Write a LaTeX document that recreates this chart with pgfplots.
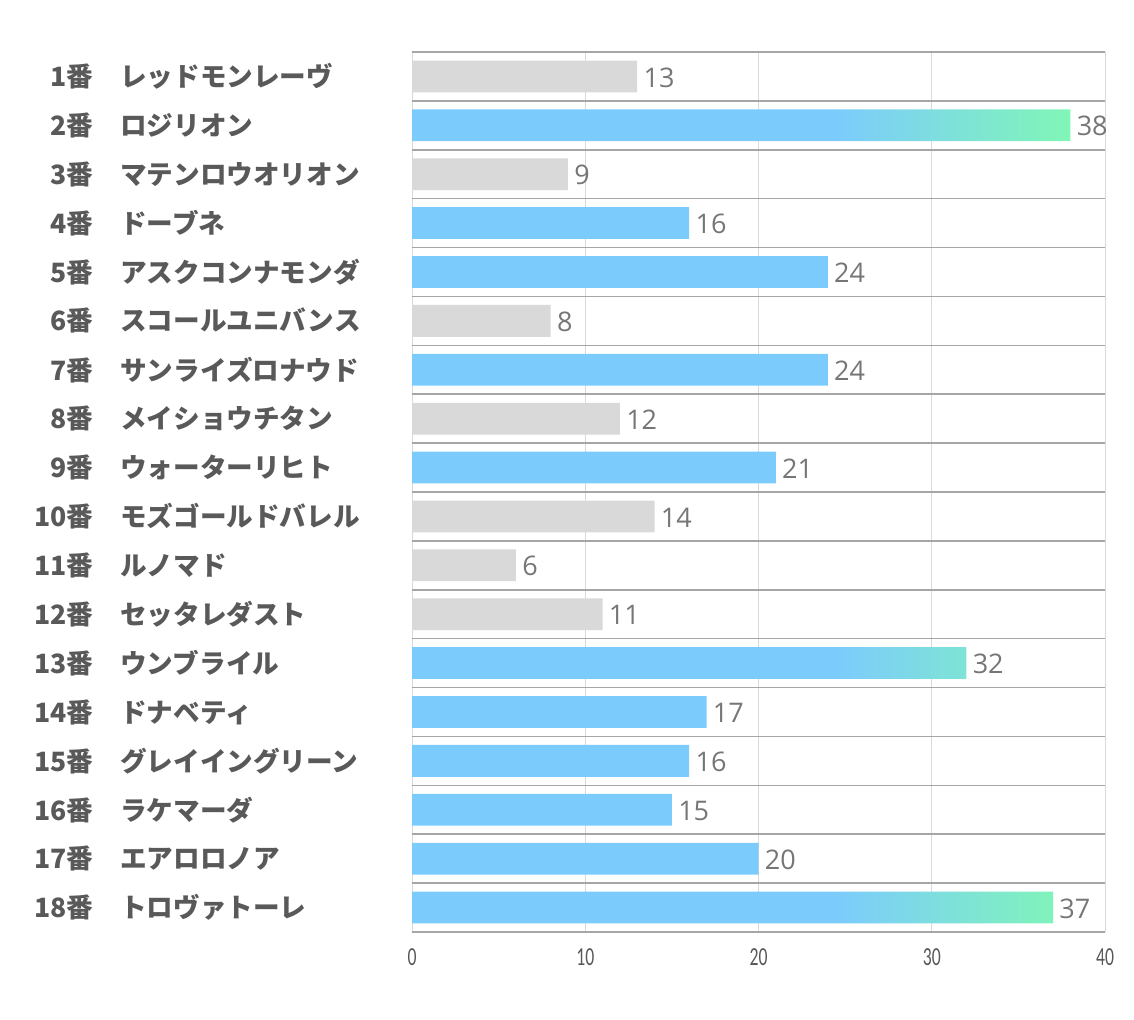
\documentclass[border=0pt]{standalone}
\usepackage{pgfplots}
\pgfplotsset{compat=1.18}
\usepackage{fontspec}
\usepackage{graphicx}
\setmainfont{Carlito}
\newfontfamily\cjk{Noto Sans CJK JP}
\newfontfamily\valfont{Open Sans}

\definecolor{barblue}{HTML}{7CCBFD}
\definecolor{bargreen}{HTML}{80F6B6}
\definecolor{bargray}{HTML}{D9D9D9}
\definecolor{hline}{HTML}{A6A6A6}
\definecolor{vline}{HTML}{D9D9D9}
\definecolor{lbl}{HTML}{595959}
\definecolor{val}{HTML}{767676}

% blue for the first ~65% of the bar, then fading to green
\pgfdeclarehorizontalshading{bargrad}{100bp}{color(0bp)=(barblue); color(25bp)=(barblue); color(57bp)=(barblue); color(75bp)=(bargreen); color(100bp)=(bargreen)}

\newcommand{\rl}[2]{\makebox[46.5pt][r]{#1番}\hspace{13.5pt}#2}

\begin{document}
\begin{tikzpicture}
\useasboundingbox (0,0) rectangle (567pt,510pt);
\begin{axis}[
  at={(206pt,44pt)}, anchor=south west,
  width=346.5pt, height=440pt, scale only axis,
  xbar,
  xmin=0, xmax=40, ymin=0.5, ymax=18.5, y dir=reverse,
  axis line style={draw=none},
  major tick length=0pt, minor tick length=0pt,
  xtick={0,10,20,30,40},
  xmajorgrids, major grid style={vline, line width=0.5pt},
  ytick={1,...,18},
  minor ytick={0.5,1.5,...,18.5},
  yminorgrids, minor grid style={hline, line width=0.75pt},
  /pgf/number format/assume math mode=true,
  xticklabel={\scalebox{0.68}[1]{\pgfmathprintnumber{\tick}}},
  xticklabel style={font=\fontsize{13}{15}\selectfont, text=lbl, anchor=base, yshift=-16.5pt},
  yticklabels={
    \rl{1}{レッドモンレーヴ},
    \rl{2}{ロジリオン},
    \rl{3}{マテンロウオリオン},
    \rl{4}{ドーブネ},
    \rl{5}{アスクコンナモンダ},
    \rl{6}{スコールユニバンス},
    \rl{7}{サンライズロナウド},
    \rl{8}{メイショウチタン},
    \rl{9}{ウォーターリヒト},
    \rl{10}{モズゴールドバレル},
    \rl{11}{ルノマド},
    \rl{12}{セッタレダスト},
    \rl{13}{ウンブライル},
    \rl{14}{ドナベティ},
    \rl{15}{グレイイングリーン},
    \rl{16}{ラケマーダ},
    \rl{17}{エアロロノア},
    \rl{18}{トロヴァトーレ}},
  yticklabel style={anchor=west, xshift=-206pt, inner sep=0pt,
    font=\cjk\bfseries\fontsize{13.3}{16}\selectfont, text=lbl},
  nodes near coords,
  every node near coord/.append style={font=\valfont\fontsize{13.5}{16}\selectfont,
    text=val, anchor=west, inner sep=3pt, yshift=-0.5pt},
]
\addplot[xbar, bar width=0.65, bar shift=0pt, fill=bargray, draw=none]
  coordinates {(13,1) (9,3) (8,6) (12,8) (14,10) (6,11) (11,12)};
\addplot[xbar, bar width=0.65, bar shift=0pt, fill=barblue, draw=none]
  coordinates {(16,4) (24,5) (24,7) (21,9) (17,14) (16,15) (15,16) (20,17)};
\addplot[xbar, bar width=0.65, bar shift=0pt, shade, shading=bargrad, draw=none]
  coordinates {(38,2) (32,13) (37,18)};
\end{axis}
\end{tikzpicture}
\end{document}
